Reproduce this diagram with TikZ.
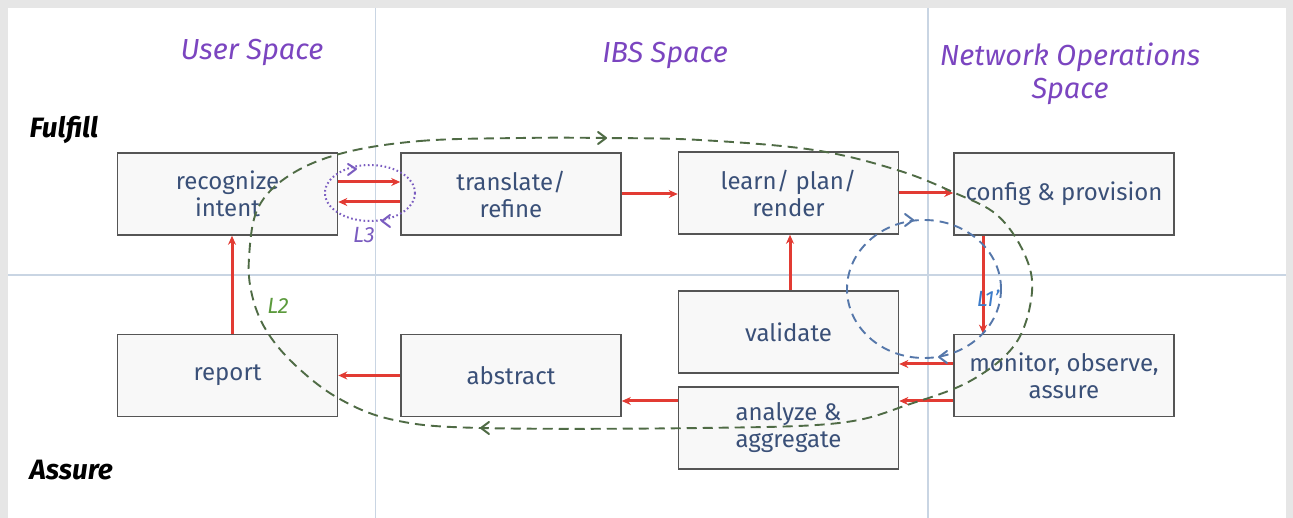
\documentclass[tikz,border=0pt]{standalone}
\usepackage{fontspec}
\setmainfont{Fira Sans}
\usetikzlibrary{arrows.meta}
\definecolor{framegray}{HTML}{E6E6E6}
\definecolor{divider}{HTML}{C9D5E3}
\definecolor{boxline}{HTML}{555555}
\definecolor{boxfill}{HTML}{F8F8F8}
\definecolor{boxtext}{HTML}{3A5078}
\definecolor{flowred}{HTML}{E23B33}
\definecolor{titlepurple}{HTML}{7B45C0}
\definecolor{loopgreen}{HTML}{4F6B45}
\definecolor{labgreen}{HTML}{5B9A3C}
\definecolor{loopblue}{HTML}{5577AA}
\definecolor{labblue}{HTML}{3D7CC9}
\definecolor{looppurple}{HTML}{7A5CC0}
\begin{document}
\begin{tikzpicture}[x=1pt,y=-1pt,
  box/.style={draw=boxline, fill=boxfill, line width=1.6pt, minimum width=220pt, minimum height=82pt, inner sep=0pt, align=center, text=boxtext, font=\fontsize{24}{27}\selectfont},
  flow/.style={draw=flowred, line width=3pt, -{Stealth[length=9pt,width=8pt]}},
  title/.style={text=titlepurple, font=\fontsize{29}{33}\selectfont\itshape, align=center},
  phase/.style={font=\fontsize{28}{30}\selectfont\bfseries\itshape, anchor=west},
  gloop/.style={draw=loopgreen, line width=1.9pt, dash pattern=on 10pt off 6pt},
  bloop/.style={draw=loopblue, line width=1.9pt, dash pattern=on 9pt off 6pt},
  ploop/.style={draw=looppurple, line width=2pt, dash pattern=on 1.6pt off 2.6pt},
  chev/.style={line width=2pt, solid, line cap=round, line join=round},
  looplabel/.style={font=\fontsize{22}{24}\selectfont\itshape}]
\useasboundingbox (0,0) rectangle (1293,518);
\fill[framegray] (0,0) rectangle (1293,518);
\fill[white] (8,8) rectangle (1286,518);
\draw[divider, line width=1.2pt] (375.5,8) -- (375.5,518);
\draw[divider, line width=1.2pt] (928,8) -- (928,518);
\draw[divider, line width=1.2pt] (8,275) -- (1286,275);

\node[title] (tuser) at (252,52) {User Space};
\node[title] (tibs) at (665,55) {IBS Space};
\node[title] (tnet) at (1070,74) {Network Operations\\Space};
\node[phase] (fulfill) at (26,130) {Fulfill};
\node[phase] (assure) at (26,470) {Assure};

\node[box] (recognize) at (227.5,194) {recognize\\intent};
\node[box] (translate) at (511,194) {translate/\\refine};
\node[box] (learn) at (788.5,193) {learn/ plan/\\render};
\node[box] (config) at (1064,194) {config \& provision};
\node[box] (validate) at (788.5,332) {validate};
\node[box] (report) at (227.5,375.5) {report};
\node[box] (abstract) at (511,375.5) {abstract};
\node[box] (analyze) at (788.5,428) {analyze \&\\aggregate};
\node[box] (monitor) at (1064,375.5) {monitor, observe,\\assure};

\draw[flow] ([yshift=12pt]recognize.east) -- ([yshift=12pt]translate.west);
\draw[flow] ([yshift=-8pt]translate.west) -- ([yshift=-8pt]recognize.east);
\draw[flow] (translate.east) -- (translate.east -| learn.west);
\draw[flow] (learn.east) -- (learn.east -| config.west);
\draw[flow] (config.south -| 983,0) -- (monitor.north -| 983,0);
\draw[flow] (monitor.west |- 0,364) -- (validate.east |- 0,364);
\draw[flow] (monitor.west |- 0,401) -- (analyze.east |- 0,401);
\draw[flow] (analyze.west |- 0,401) -- (abstract.east |- 0,401);
\draw[flow] (abstract.west) -- (report.east);
\draw[flow] (report.north -| 232,0) -- (recognize.south -| 232,0);
\draw[flow] (validate.north -| 790,0) -- (learn.south -| 790,0);

% L2 loop
\draw[gloop] plot[smooth cycle, tension=0.6] coordinates {
 (343,153) (420,141) (520,138) (606,138) (700,140) (814,150) (897,170) (955,193)
 (997,215) (1024,253) (1032,292) (1016,343) (972,380) (910,404) (839,423) (700,428)
 (481,428) (394,420) (338,398) (294,364) (266,330) (252,295) (249,258) (258,208) (290,175)};
\draw[loopgreen, chev] (598,132) -- (606,138) -- (598,144);
\draw[loopgreen, chev] (489,422) -- (481,428) -- (489,434);
\node[looplabel, text=labgreen] (l2) at (278,306) {L2};

% L1' loop
\draw[bloop] (924,289) ellipse [x radius=77, y radius=69];
\draw[loopblue, chev] (905,214) -- (913,220) -- (905,226);
\draw[loopblue, chev] (947,351) -- (939,357) -- (947,363);
\node[looplabel, text=labblue] (l1) at (988,298) {L1'};

% L3 loop
\draw[ploop] (370,193) ellipse [x radius=45, y radius=28];
\draw[looppurple, chev] (348,164) -- (356,169) -- (348,175);
\draw[looppurple, chev] (390,215) -- (382,221) -- (390,227);
\node[looplabel, text=looppurple] (l3) at (364,235) {L3};
\end{tikzpicture}
\end{document}
